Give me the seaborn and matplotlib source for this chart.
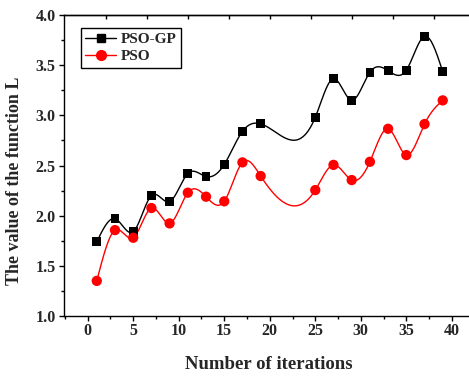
import numpy as np
import pandas as pd
import matplotlib
matplotlib.use("Agg")
import matplotlib.pyplot as plt
import seaborn as sns
from matplotlib.lines import Line2D
from matplotlib.ticker import MultipleLocator, FixedLocator

iterations = [1, 3, 5, 7, 9, 11, 13, 15, 17, 19, 25, 27, 29, 31, 33, 35, 37, 39]
pso_gp = [1.74, 1.97, 1.84, 2.20, 2.14, 2.42, 2.39, 2.51, 2.84, 2.915, 2.98, 3.365, 3.15, 3.43, 3.445, 3.45, 3.787, 3.435]
pso = [1.35, 1.856, 1.78, 2.076, 1.923, 2.229, 2.189, 2.143, 2.531, 2.395, 2.255, 2.506, 2.355, 2.537, 2.866, 2.604, 2.913, 3.149]
series_names = ["PSO-GP", "PSO"]
xticks = [0, 5, 10, 15, 20, 25, 30, 35, 40]
yticks = [1.0, 1.5, 2.0, 2.5, 3.0, 3.5, 4.0]


def natural_spline(x, y, xs):
    x = np.asarray(x, float); y = np.asarray(y, float)
    n = len(x)
    h = np.diff(x)
    A = np.zeros((n, n)); b = np.zeros(n)
    A[0, 0] = 1; A[-1, -1] = 1
    for i in range(1, n - 1):
        A[i, i - 1] = h[i - 1]
        A[i, i] = 2 * (h[i - 1] + h[i])
        A[i, i + 1] = h[i]
        b[i] = 3 * ((y[i + 1] - y[i]) / h[i] - (y[i] - y[i - 1]) / h[i - 1])
    c = np.linalg.solve(A, b)
    out = np.empty_like(xs)
    for k, xv in enumerate(xs):
        i = min(max(np.searchsorted(x, xv) - 1, 0), n - 2)
        dx = xv - x[i]
        bi = (y[i + 1] - y[i]) / h[i] - h[i] * (2 * c[i] + c[i + 1]) / 3
        di = (c[i + 1] - c[i]) / (3 * h[i])
        out[k] = y[i] + bi * dx + c[i] * dx ** 2 + di * dx ** 3
    return out


sns.set_theme(style="ticks")
plt.rcParams["font.family"] = ["Liberation Serif", "DejaVu Serif"]
plt.rcParams["font.weight"] = "bold"

fig = plt.figure(figsize=(4.69, 3.76), dpi=100)
ax = fig.add_axes([64 / 469, 60 / 376, 1 - 64 / 469 + 0.01, 301 / 376])

xs = np.linspace(iterations[0], iterations[-1], 600)
curves = pd.concat([
    pd.DataFrame({"x": xs, "y": natural_spline(iterations, pso_gp, xs), "s": series_names[0]}),
    pd.DataFrame({"x": xs, "y": natural_spline(iterations, pso, xs), "s": series_names[1]}),
])
points = pd.concat([
    pd.DataFrame({"x": iterations, "y": pso_gp, "s": series_names[0]}),
    pd.DataFrame({"x": iterations, "y": pso, "s": series_names[1]}),
])
palette = {"PSO-GP": "black", "PSO": "#ff0000"}
sns.lineplot(data=curves, x="x", y="y", hue="s", palette=palette, linewidth=1.0,
             legend=False, ax=ax, sort=False, estimator=None)
sns.scatterplot(data=points[points.s == "PSO-GP"], x="x", y="y", color="black", marker="s",
                s=40, edgecolor="none", legend=False, ax=ax, zorder=3)
sns.scatterplot(data=points[points.s == "PSO"], x="x", y="y", color="#ff0000", marker="o",
                s=55, edgecolor="none", legend=False, ax=ax, zorder=3)

ax.set_xlim(-2.6, 42.4)
ax.set_ylim(1.0, 4.0)
ax.set_xticks(xticks)
ax.set_yticks(yticks)
ax.set_yticklabels([f"{v:.1f}" for v in yticks])
ax.xaxis.set_minor_locator(MultipleLocator(2.5))
ax.yaxis.set_minor_locator(MultipleLocator(0.25))
ax.tick_params(axis="both", which="major", direction="out", length=3.5, width=1, labelsize=11.5, color="black")
ax.tick_params(axis="x", which="major", pad=1.5)
ax.tick_params(axis="y", which="major", pad=2.5)
ax.tick_params(axis="both", which="minor", direction="out", length=2.2, width=1, color="black")
for lab in ax.get_xticklabels() + ax.get_yticklabels():
    lab.set_fontweight("bold")
for sp in ["left", "bottom", "top"]:
    ax.spines[sp].set_color("black")
    ax.spines[sp].set_linewidth(1.0)
ax.spines["right"].set_visible(False)

sec = ax.secondary_xaxis("top")
sec.xaxis.set_major_locator(FixedLocator([2, 6.5, 11, 15.5, 20, 24.5, 29, 33.5, 38]))
sec.tick_params(direction="in", length=3, width=1, labeltop=False, color="black")
sec.spines["top"].set_linewidth(1.0)

ax.set_xlabel("Number of iterations", fontsize=13.5, fontweight="bold", labelpad=12)
ax.set_ylabel("The value of the function L", fontsize=13, fontweight="bold")
ax.yaxis.set_label_coords(-0.1, 0.45)

handles = [
    Line2D([], [], color="black", marker="s", markersize=6, linewidth=1.0, label=series_names[0]),
    Line2D([], [], color="#ff0000", marker="o", markersize=7, linewidth=1.0, label=series_names[1]),
]
leg = ax.legend(handles=handles, loc="upper left", bbox_to_anchor=(0.041, 0.957), borderaxespad=0,
                frameon=True, fancybox=False, edgecolor="black", framealpha=1,
                prop={"weight": "bold", "size": 11},
                handlelength=2.0, borderpad=0.3, labelspacing=0.2, handletextpad=0.3)
leg.get_frame().set_linewidth(1.0)

fig.savefig("out.png", dpi=100)
